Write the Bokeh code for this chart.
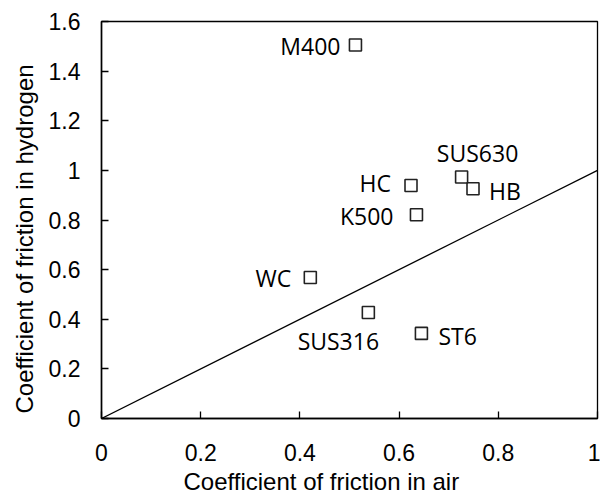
from bokeh.plotting import figure
from bokeh.models import ColumnDataSource, FixedTicker, Range1d, Title
from bokeh.core.properties import value
from bokeh.embed import file_html
from bokeh.resources import INLINE

# ---- data ----
materials = ["M400", "SUS630", "HB", "HC", "K500", "WC", "SUS316", "ST6"]
cof_air = [0.512, 0.726, 0.749, 0.624, 0.635, 0.421, 0.538, 0.645]
cof_h2 = [1.505, 0.973, 0.926, 0.939, 0.821, 0.568, 0.427, 0.343]
ref_x = [0.0, 1.0]
ref_y = [0.0, 1.0]
x_ticks = [0, 0.2, 0.4, 0.6, 0.8, 1]
x_tick_labels = ["0", "0.2", "0.4", "0.6", "0.8", "1"]
y_ticks = [0, 0.2, 0.4, 0.6, 0.8, 1.0, 1.2, 1.4, 1.6]
y_tick_labels = ["0", "0.2", "0.4", "0.6", "0.8", "1", "1.2", "1.4", "1.6"]
x_title = "Coefficient of friction in air"
y_title = "Coefficient of friction in hydrogen"

# label placement (layout, not data)
label_align = ["right", "center", "left", "right", "right", "right", "center", "left"]
label_dx = [-15, 16, 16, -20, -23, -19, -30, 17]
label_dy = [1, -24, 2, -3, 1, 0, 28, 3]

AX_FONT = "Arial"

p = figure(width=600, height=498, output_backend="svg", toolbar_location=None,
           x_range=Range1d(0, 1), y_range=Range1d(0, 1.6),
           min_border_left=101, min_border_right=3, min_border_top=21, min_border_bottom=80)
p.background_fill_color = "white"
p.border_fill_color = "white"
p.outline_line_color = "black"
p.outline_line_width = 1.3
p.xgrid.visible = False
p.ygrid.visible = False

for ax, ticks, labs, so in ((p.xaxis[0], x_ticks, x_tick_labels, 25),
                            (p.yaxis[0], y_ticks, y_tick_labels, 21)):
    ax.ticker = FixedTicker(ticks=ticks)
    ax.major_label_overrides = {t: l for t, l in zip(ticks, labs)}
    ax.major_tick_in = 7
    ax.major_tick_out = 0
    ax.minor_tick_line_color = None
    ax.axis_line_width = 1.5
    ax.major_tick_line_width = 1.3
    ax.axis_line_color = "black"
    ax.major_tick_line_color = "black"
    ax.major_label_text_font = AX_FONT
    ax.major_label_text_font_size = "23px"
    ax.major_label_text_color = "black"
    ax.major_label_standoff = so

p.line(ref_x, ref_y, line_color="black", line_width=1.3)
p.scatter(cof_air, cof_h2, marker="square", size=12, fill_color=None,
          line_color="#222222", line_width=1.6)

for align in ("left", "center", "right"):
    idx = [i for i, a in enumerate(label_align) if a == align]
    src = ColumnDataSource(dict(
        x=[cof_air[i] for i in idx], y=[cof_h2[i] for i in idx],
        t=[materials[i] for i in idx],
        dx=[label_dx[i] for i in idx], dy=[label_dy[i] for i in idx]))
    p.text("x", "y", text="t", source=src, x_offset="dx", y_offset="dy",
           text_align=align, text_baseline="middle",
           text_font=value("Open Sans"), text_font_size="23px", text_color="black")

p.add_layout(Title(text=x_title, align="left", offset=82, standoff=5,
                   vertical_align="bottom",
                   text_font=AX_FONT, text_font_size="24px",
                   text_font_style="normal", text_color="black"), "below")
p.add_layout(Title(text=y_title, align="left", offset=5, standoff=15,
                   text_font=AX_FONT, text_font_size="24px",
                   text_font_style="normal", text_color="black"), "left")

open("out.html", "w").write(file_html(p, INLINE))
